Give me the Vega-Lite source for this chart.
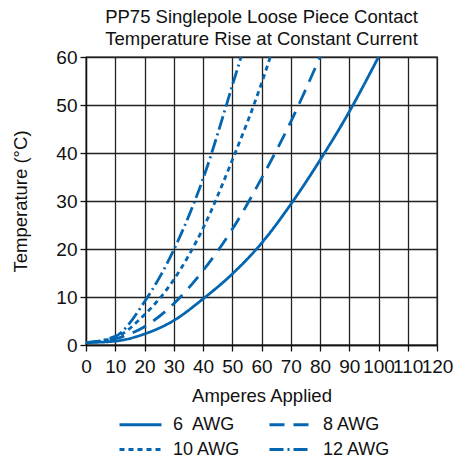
{
  "$schema": "https://vega.github.io/schema/vega-lite/v6.json",
  "autosize": {"type": "none"},
  "padding": {"left": 86, "top": 57, "right": 21, "bottom": 121},
  "width": 351,
  "height": 288,
  "title": {
    "text": ["PP75 Singlepole Loose Piece Contact", "Temperature Rise at Constant Current"],
    "font": "Liberation Sans",
    "fontSize": 18.5,
    "fontWeight": "normal",
    "lineHeight": 22,
    "color": "#111",
    "anchor": "middle",
    "frame": "group",
    "offset": 0
  },
  "config": {
    "font": "Liberation Sans",
    "view": {"stroke": "#111", "strokeWidth": 1.3},
    "axis": {
      "domainColor": "#111",
      "domainWidth": 1.3,
      "tickColor": "#111",
      "tickWidth": 1.3,
      "tickSize": 6,
      "gridColor": "#222",
      "gridWidth": 1.3,
      "gridOpacity": 1,
      "labelFont": "Liberation Sans",
      "labelFontSize": 19,
      "labelColor": "#111",
      "titleFont": "Liberation Sans",
      "titleFontSize": 18.5,
      "titleFontWeight": "normal",
      "titleColor": "#111"
    },
    "legend": {
      "labelFont": "Liberation Sans",
      "labelFontSize": 18,
      "labelColor": "#111"
    }
  },
  "data": {
    "values": [
      {"wire": "6  AWG", "amps": 0, "temp": 0.5},
      {"wire": "6  AWG", "amps": 10, "temp": 0.8},
      {"wire": "6  AWG", "amps": 20, "temp": 2.3},
      {"wire": "6  AWG", "amps": 30, "temp": 5.1},
      {"wire": "6  AWG", "amps": 40, "temp": 9.6},
      {"wire": "6  AWG", "amps": 50, "temp": 14.8},
      {"wire": "6  AWG", "amps": 60, "temp": 21.2},
      {"wire": "6  AWG", "amps": 70, "temp": 29.3},
      {"wire": "6  AWG", "amps": 80, "temp": 38.5},
      {"wire": "6  AWG", "amps": 90, "temp": 48.6},
      {"wire": "6  AWG", "amps": 100, "temp": 60},
      {"wire": "8 AWG", "amps": 0, "temp": 0.5},
      {"wire": "8 AWG", "amps": 10, "temp": 1.3},
      {"wire": "8 AWG", "amps": 20, "temp": 3.8},
      {"wire": "8 AWG", "amps": 30, "temp": 8.6},
      {"wire": "8 AWG", "amps": 40, "temp": 15.5},
      {"wire": "8 AWG", "amps": 50, "temp": 24.1},
      {"wire": "8 AWG", "amps": 60, "temp": 34.7},
      {"wire": "8 AWG", "amps": 70, "temp": 46.5},
      {"wire": "8 AWG", "amps": 80, "temp": 60},
      {"wire": "10 AWG", "amps": 0, "temp": 0.5},
      {"wire": "10 AWG", "amps": 10, "temp": 1.6},
      {"wire": "10 AWG", "amps": 20, "temp": 6.3},
      {"wire": "10 AWG", "amps": 30, "temp": 13.6},
      {"wire": "10 AWG", "amps": 40, "temp": 24.3},
      {"wire": "10 AWG", "amps": 50, "temp": 38.5},
      {"wire": "10 AWG", "amps": 60, "temp": 54.5},
      {"wire": "10 AWG", "amps": 63, "temp": 60},
      {"wire": "12 AWG", "amps": 0, "temp": 0.5},
      {"wire": "12 AWG", "amps": 10, "temp": 1.8},
      {"wire": "12 AWG", "amps": 20, "temp": 9},
      {"wire": "12 AWG", "amps": 30, "temp": 19.8},
      {"wire": "12 AWG", "amps": 40, "temp": 34.6},
      {"wire": "12 AWG", "amps": 50, "temp": 54},
      {"wire": "12 AWG", "amps": 53, "temp": 60}
    ]
  },
  "mark": {"type": "line", "interpolate": "monotone", "color": "#0465B0", "strokeWidth": 2.8, "clip": true},
  "encoding": {
    "x": {
      "field": "amps",
      "type": "quantitative",
      "title": "Amperes Applied",
      "scale": {"domain": [0, 120], "nice": false},
      "axis": {"values": [0, 10, 20, 30, 40, 50, 60, 70, 80, 90, 100, 110, 120], "labelPadding": 6, "titlePadding": 10, "labelFlush": false, "labelOverlap": false}
    },
    "y": {
      "field": "temp",
      "type": "quantitative",
      "title": "Temperature (°C)",
      "scale": {"domain": [0, 60], "nice": false},
      "axis": {"values": [0, 10, 20, 30, 40, 50, 60], "labelPadding": 3, "titlePadding": 25}
    },
    "strokeDash": {
      "field": "wire",
      "type": "nominal",
      "title": null,
      "scale": {
        "domain": ["6  AWG", "8 AWG", "10 AWG", "12 AWG"],
        "range": [[1, 0], [15, 9], [5, 4], [14, 4, 2, 4]]
      },
      "legend": {
        "orient": "none",
        "legendX": 43,
        "legendY": 356,
        "direction": "horizontal",
        "columns": 2,
        "symbolType": "M-2.1,0H2.1",
        "symbolSize": 400,
        "symbolStrokeWidth": 3,
        "symbolStrokeColor": "#0465B0",
        "symbolFillColor": "transparent",
        "columnPadding": 22,
        "rowPadding": 4,
        "labelOffset": 21,
        "labelExpr": "datum.label == '6  AWG' ? '6\u00a0 AWG' : datum.label == '8 AWG' ? '\u00a0\u00a08 AWG' : datum.label"
      }
    }
  }
}
